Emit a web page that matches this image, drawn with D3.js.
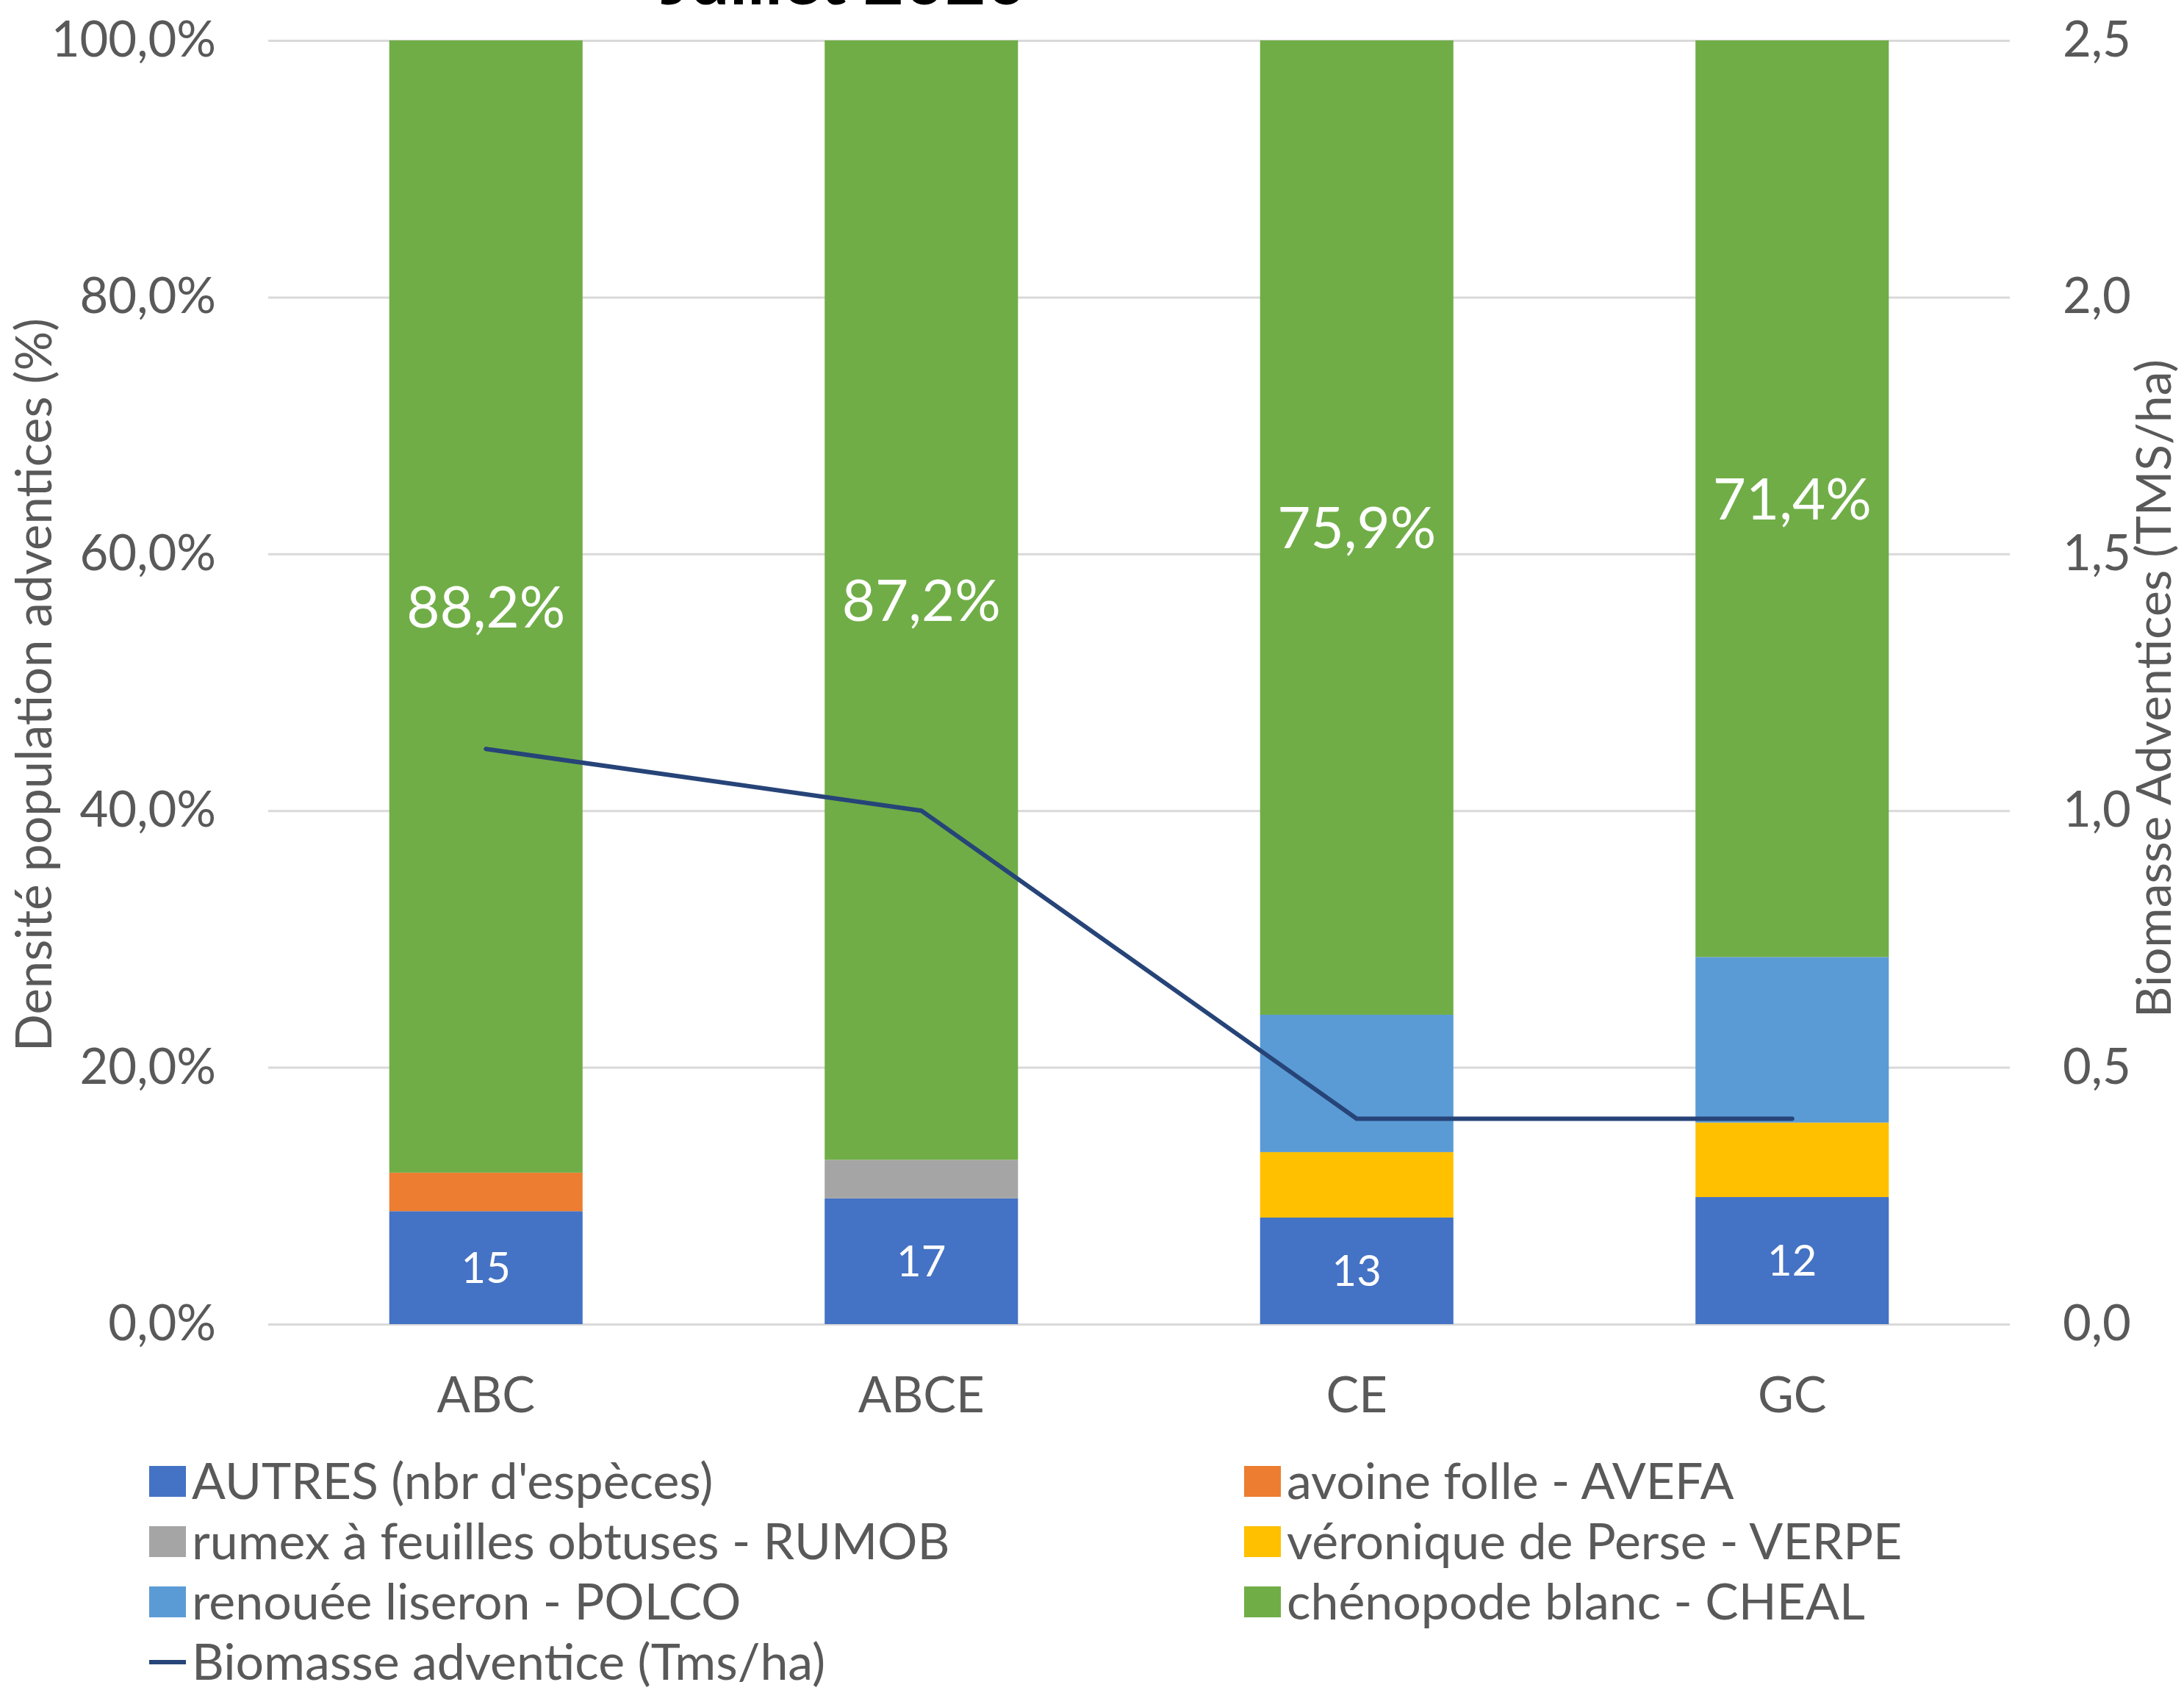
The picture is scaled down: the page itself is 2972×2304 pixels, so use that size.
<!DOCTYPE html>
<html>
<head>
<meta charset="utf-8">
<script src="https://cdn.jsdelivr.net/npm/d3@7"></script>
<style>
  html, body { margin: 0; padding: 0; background: #fff; }
  svg text { font-family: Lato, "Noto Sans", sans-serif; }
</style>
</head>
<body>
<svg id="chart"></svg>
<script>
// données
const categories = ["ABC", "ABCE", "CE", "GC"];
const autres = [8.8, 9.8, 8.3, 9.9];
const avefa = [3.0, 0, 0, 0];
const rumob = [0, 3.0, 0, 0];
const verpe = [0, 0, 5.1, 5.8];
const polco = [0, 0, 10.7, 12.9];
const cheal = [88.2, 87.2, 75.9, 71.4];
const nbEspeces = [15, 17, 13, 12];
const biomasse = [1.12, 1.0, 0.4, 0.4];
const leftTicks = [0, 20, 40, 60, 80, 100];
const rightTicks = [0, 0.5, 1.0, 1.5, 2.0, 2.5];

const seriesNames = [
  "AUTRES (nbr d'espèces)",
  "avoine folle - AVEFA",
  "rumex à feuilles obtuses - RUMOB",
  "véronique de Perse - VERPE",
  "renouée liseron - POLCO",
  "chénopode blanc - CHEAL"
];
const seriesValues = [autres, avefa, rumob, verpe, polco, cheal];
const colors = ["#4472C4", "#ED7D31", "#A5A5A5", "#FFC000", "#5B9BD5", "#70AD47"];
const lineName = "Biomasse adventice (Tms/ha)";
const lineColor = "#264478";

const WIDTH = 2972, HEIGHT = 2304;
const PLOT = { left: 365, right: 2735, top: 55, bottom: 1802 };
const TEXT_GREY = "#595959";

const fr = d3.formatLocale({ decimal: ",", thousands: " ", grouping: [3], currency: ["", " €"] });
const fmtPct = fr.format(".1f");
const fmtOne = fr.format(".1f");

const svg = d3.select("#chart").attr("width", WIDTH).attr("height", HEIGHT);

// table pour d3.stack
const table = categories.map((c, i) => {
  const row = { cat: c };
  seriesNames.forEach((s, k) => { row[s] = seriesValues[k][i]; });
  return row;
});
const stacked = d3.stack().keys(seriesNames)(table);

const x = d3.scaleBand().domain(categories).range([PLOT.left, PLOT.right]).padding(0);
const y = d3.scaleLinear().domain([0, 100]).range([PLOT.bottom, PLOT.top]);
const y2 = d3.scaleLinear().domain([0, 2.5]).range([PLOT.bottom, PLOT.top]);
const barW = x.bandwidth() * 0.444;

// grille + axe gauche
const gLeft = svg.append("g")
  .attr("transform", `translate(${PLOT.left},0)`)
  .call(d3.axisLeft(y).tickValues(leftTicks).tickSize(-(PLOT.right - PLOT.left)).tickPadding(71)
    .tickFormat(d => fmtPct(d) + "%"));
gLeft.select(".domain").remove();
gLeft.selectAll(".tick line").attr("stroke", "#D9D9D9").attr("stroke-width", 3);
gLeft.selectAll(".tick text").attr("fill", TEXT_GREY).style("font-size", "67px");

// axe droit
const gRight = svg.append("g")
  .attr("transform", `translate(${PLOT.right},0)`)
  .call(d3.axisRight(y2).tickValues(rightTicks).tickSize(0).tickPadding(72).tickFormat(fmtOne));
gRight.select(".domain").remove();
gRight.selectAll(".tick text").attr("fill", TEXT_GREY).style("font-size", "67px");

// barres empilées
svg.append("g")
  .selectAll("g")
  .data(stacked)
  .join("g")
  .attr("fill", (d, i) => colors[i])
  .selectAll("rect")
  .data(d => d)
  .join("rect")
  .attr("x", d => x(d.data.cat) + (x.bandwidth() - barW) / 2)
  .attr("y", d => y(d[1]))
  .attr("width", barW)
  .attr("height", d => y(d[0]) - y(d[1]));

// étiquettes nbr d'espèces
const autresLayer = stacked[0];
svg.append("g")
  .selectAll("text")
  .data(autresLayer)
  .join("text")
  .attr("x", d => x(d.data.cat) + x.bandwidth() / 2)
  .attr("y", d => (y(d[0]) + y(d[1])) / 2)
  .attr("dy", "0.36em")
  .attr("text-anchor", "middle")
  .attr("fill", "#fff")
  .style("font-size", "58px")
  .text((d, i) => nbEspeces[i]);

// étiquettes chénopode
const chealLayer = stacked[stacked.length - 1];
svg.append("g")
  .selectAll("text")
  .data(chealLayer)
  .join("text")
  .attr("x", d => x(d.data.cat) + x.bandwidth() / 2)
  .attr("y", d => (y(d[0]) + y(d[1])) / 2)
  .attr("dy", "0.36em")
  .attr("text-anchor", "middle")
  .attr("fill", "#fff")
  .style("font-size", "78px")
  .text((d, i) => fmtPct(cheal[i]) + "%");

// courbe biomasse
const line = d3.line()
  .x((d, i) => x(categories[i]) + x.bandwidth() / 2)
  .y(d => y2(d));
svg.append("path")
  .datum(biomasse)
  .attr("d", line)
  .attr("fill", "none")
  .attr("stroke", lineColor)
  .attr("stroke-width", 6)
  .attr("stroke-linejoin", "round")
  .attr("stroke-linecap", "round");

// axe X (catégories)
const gX = svg.append("g")
  .attr("transform", `translate(0,${PLOT.bottom})`)
  .call(d3.axisBottom(x).tickSize(0).tickPadding(72));
gX.select(".domain").remove();
gX.selectAll(".tick text").attr("fill", TEXT_GREY).style("font-size", "67px");

// titres des axes
svg.append("text")
  .attr("transform", "translate(70,932) rotate(-90)")
  .attr("text-anchor", "middle")
  .attr("fill", TEXT_GREY)
  .style("font-size", "67px")
  .text("Densité population adventices (%)");

svg.append("text")
  .attr("transform", "translate(2954,937) rotate(-90)")
  .attr("text-anchor", "middle")
  .attr("fill", TEXT_GREY)
  .style("font-size", "66px")
  .text("Biomasse Adventices (TMS/ha)");

// titre (coupé en haut, comme sur l'original)
svg.append("text")
  .attr("x", 1148)
  .attr("y", 6)
  .attr("text-anchor", "middle")
  .attr("fill", "#000")
  .style("font-size", "96px")
  .style("font-weight", "bold")
  .text("Juillet 2020");

// légende
const legendItems = seriesNames.map((s, i) => ({ name: s, color: colors[i], type: "rect" }));
legendItems.push({ name: lineName, color: lineColor, type: "line" });
const colX = [203, 1693];
const rowY = [2016, 2098, 2180, 2262];

const leg = svg.append("g")
  .selectAll("g")
  .data(legendItems)
  .join("g")
  .attr("transform", (d, i) => `translate(${colX[i % 2]},${rowY[Math.floor(i / 2)]})`);

leg.filter(d => d.type === "rect").append("rect")
  .attr("x", 0).attr("y", -21).attr("width", 50).attr("height", 42)
  .attr("fill", d => d.color);
leg.filter(d => d.type === "line").append("line")
  .attr("x1", 0).attr("x2", 50).attr("y1", 0).attr("y2", 0)
  .attr("stroke", d => d.color).attr("stroke-width", 6);
leg.append("text")
  .attr("x", 58)
  .attr("dy", "0.36em")
  .attr("fill", TEXT_GREY)
  .style("font-size", "68px")
  .text(d => d.name);
</script>
</body>
</html>
